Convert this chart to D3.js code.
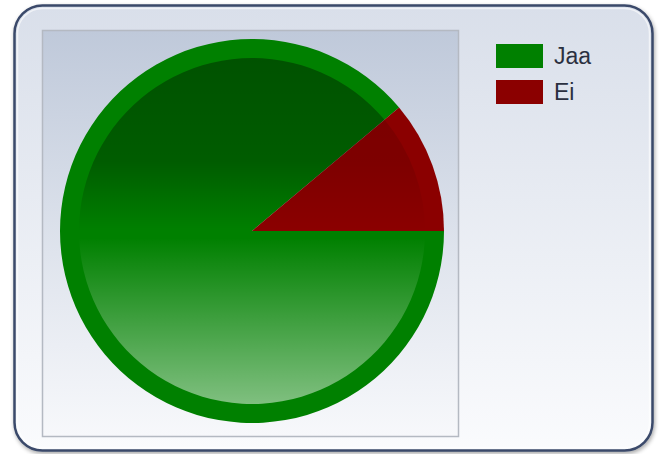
<!DOCTYPE html>
<html>
<head>
<meta charset="utf-8">
<script src="https://cdn.jsdelivr.net/npm/d3@7"></script>
<style>
  body { margin: 0; background: #ffffff; }
  svg { display: block; }
</style>
</head>
<body>
<div id="chart"></div>
<script>
// DATA
const categories = ["Jaa", "Ei"];
const values = [8, 1];
const colors = ["#008000", "#8b0000"];

// SIZES
const width = 664;
const height = 454;
const plot = { x: 42, y: 30, w: 416, h: 406 };
const outerR = 192;
const innerR = 173;
const cx = 252, cy = 231;

const svg = d3.select("#chart")
    .append("svg")
    .attr("width", width)
    .attr("height", height);

const defs = svg.append("defs");

// panel background gradient
const panelGrad = defs.append("linearGradient")
    .attr("id", "panelGrad")
    .attr("x1", 0).attr("y1", 0).attr("x2", 0).attr("y2", 1);
panelGrad.append("stop").attr("offset", "0%").attr("stop-color", "#d9dfea");
panelGrad.append("stop").attr("offset", "100%").attr("stop-color", "#fafbfd");

// plot area gradient
const plotGrad = defs.append("linearGradient")
    .attr("id", "plotGrad")
    .attr("x1", 0).attr("y1", 0).attr("x2", 0).attr("y2", 1);
plotGrad.append("stop").attr("offset", "0%").attr("stop-color", "#bfc9da");
plotGrad.append("stop").attr("offset", "55%").attr("stop-color", "#dfe4ed");
plotGrad.append("stop").attr("offset", "100%").attr("stop-color", "#f7f8fb");

// shading overlay on the pie (fixed to the inner circle)
const shade = defs.append("linearGradient")
    .attr("id", "shade")
    .attr("gradientUnits", "userSpaceOnUse")
    .attr("x1", 0).attr("y1", -innerR).attr("x2", 0).attr("y2", innerR);
shade.append("stop").attr("offset", "0%").attr("stop-color", "#000").attr("stop-opacity", 0.36);
shade.append("stop").attr("offset", "30%").attr("stop-color", "#000").attr("stop-opacity", 0.28);
shade.append("stop").attr("offset", "50%").attr("stop-color", "#000").attr("stop-opacity", 0.0);
shade.append("stop").attr("offset", "52%").attr("stop-color", "#fff").attr("stop-opacity", 0.0);
shade.append("stop").attr("offset", "100%").attr("stop-color", "#fff").attr("stop-opacity", 0.5);

const shadow = defs.append("filter").attr("id", "shadow")
    .attr("x", "-5%").attr("y", "-5%").attr("width", "110%").attr("height", "110%");
shadow.append("feGaussianBlur").attr("in", "SourceAlpha").attr("stdDeviation", 2);
shadow.append("feOffset").attr("dx", 1).attr("dy", 2).attr("result", "b");
shadow.append("feComponentTransfer").append("feFuncA").attr("type", "linear").attr("slope", 0.35);
const merge = shadow.append("feMerge");
merge.append("feMergeNode");
merge.append("feMergeNode").attr("in", "SourceGraphic");

// PANEL
svg.append("rect")
    .attr("x", 14.5).attr("y", 5.5)
    .attr("width", 638).attr("height", 445)
    .attr("rx", 28).attr("ry", 28)
    .attr("fill", "url(#panelGrad)")
    .attr("stroke", "#3a4a6a")
    .attr("stroke-width", 2.5)
    .attr("filter", "url(#shadow)");

svg.append("rect")
    .attr("x", 17.5).attr("y", 8.5)
    .attr("width", 632).attr("height", 439)
    .attr("rx", 25).attr("ry", 25)
    .attr("fill", "none")
    .attr("stroke", "#ffffff")
    .attr("stroke-opacity", 0.6)
    .attr("stroke-width", 1.5);

// PLOT AREA
svg.append("rect")
    .attr("x", plot.x + 0.5).attr("y", plot.y + 0.5)
    .attr("width", plot.w).attr("height", plot.h)
    .attr("fill", "url(#plotGrad)")
    .attr("stroke", "#b4b9c2")
    .attr("stroke-width", 1.5);

// PIE
const pie = d3.pie()
    .sort(null)
    .value(d => d)
    .startAngle(Math.PI / 2)
    .endAngle(Math.PI / 2 + 2 * Math.PI);

const arcs = pie(values);
const outerArc = d3.arc().innerRadius(0).outerRadius(outerR);
const innerArc = d3.arc().innerRadius(0).outerRadius(innerR);

const g = svg.append("g").attr("transform", `translate(${cx},${cy})`);

g.selectAll("path.slice")
    .data(arcs)
    .join("path")
    .attr("class", "slice")
    .attr("d", outerArc)
    .attr("fill", (d, i) => colors[i]);

g.selectAll("path.inner")
    .data(arcs)
    .join("path")
    .attr("class", "inner")
    .attr("d", innerArc)
    .attr("fill", "url(#shade)")
    .attr("opacity", (d, i) => i === 0 ? 1 : 0.35);

// LEGEND
const legend = svg.append("g").attr("transform", "translate(496,44)");
const items = legend.selectAll("g")
    .data(categories)
    .join("g")
    .attr("transform", (d, i) => `translate(0,${i * 36})`);

items.append("rect")
    .attr("width", 47).attr("height", 24)
    .attr("fill", (d, i) => colors[i]);

items.append("text")
    .attr("x", 58).attr("y", 20)
    .attr("font-family", "Liberation Sans, Arial, sans-serif")
    .attr("font-size", 23)
    .attr("fill", "#2b3040")
    .text(d => d);
</script>
</body>
</html>
